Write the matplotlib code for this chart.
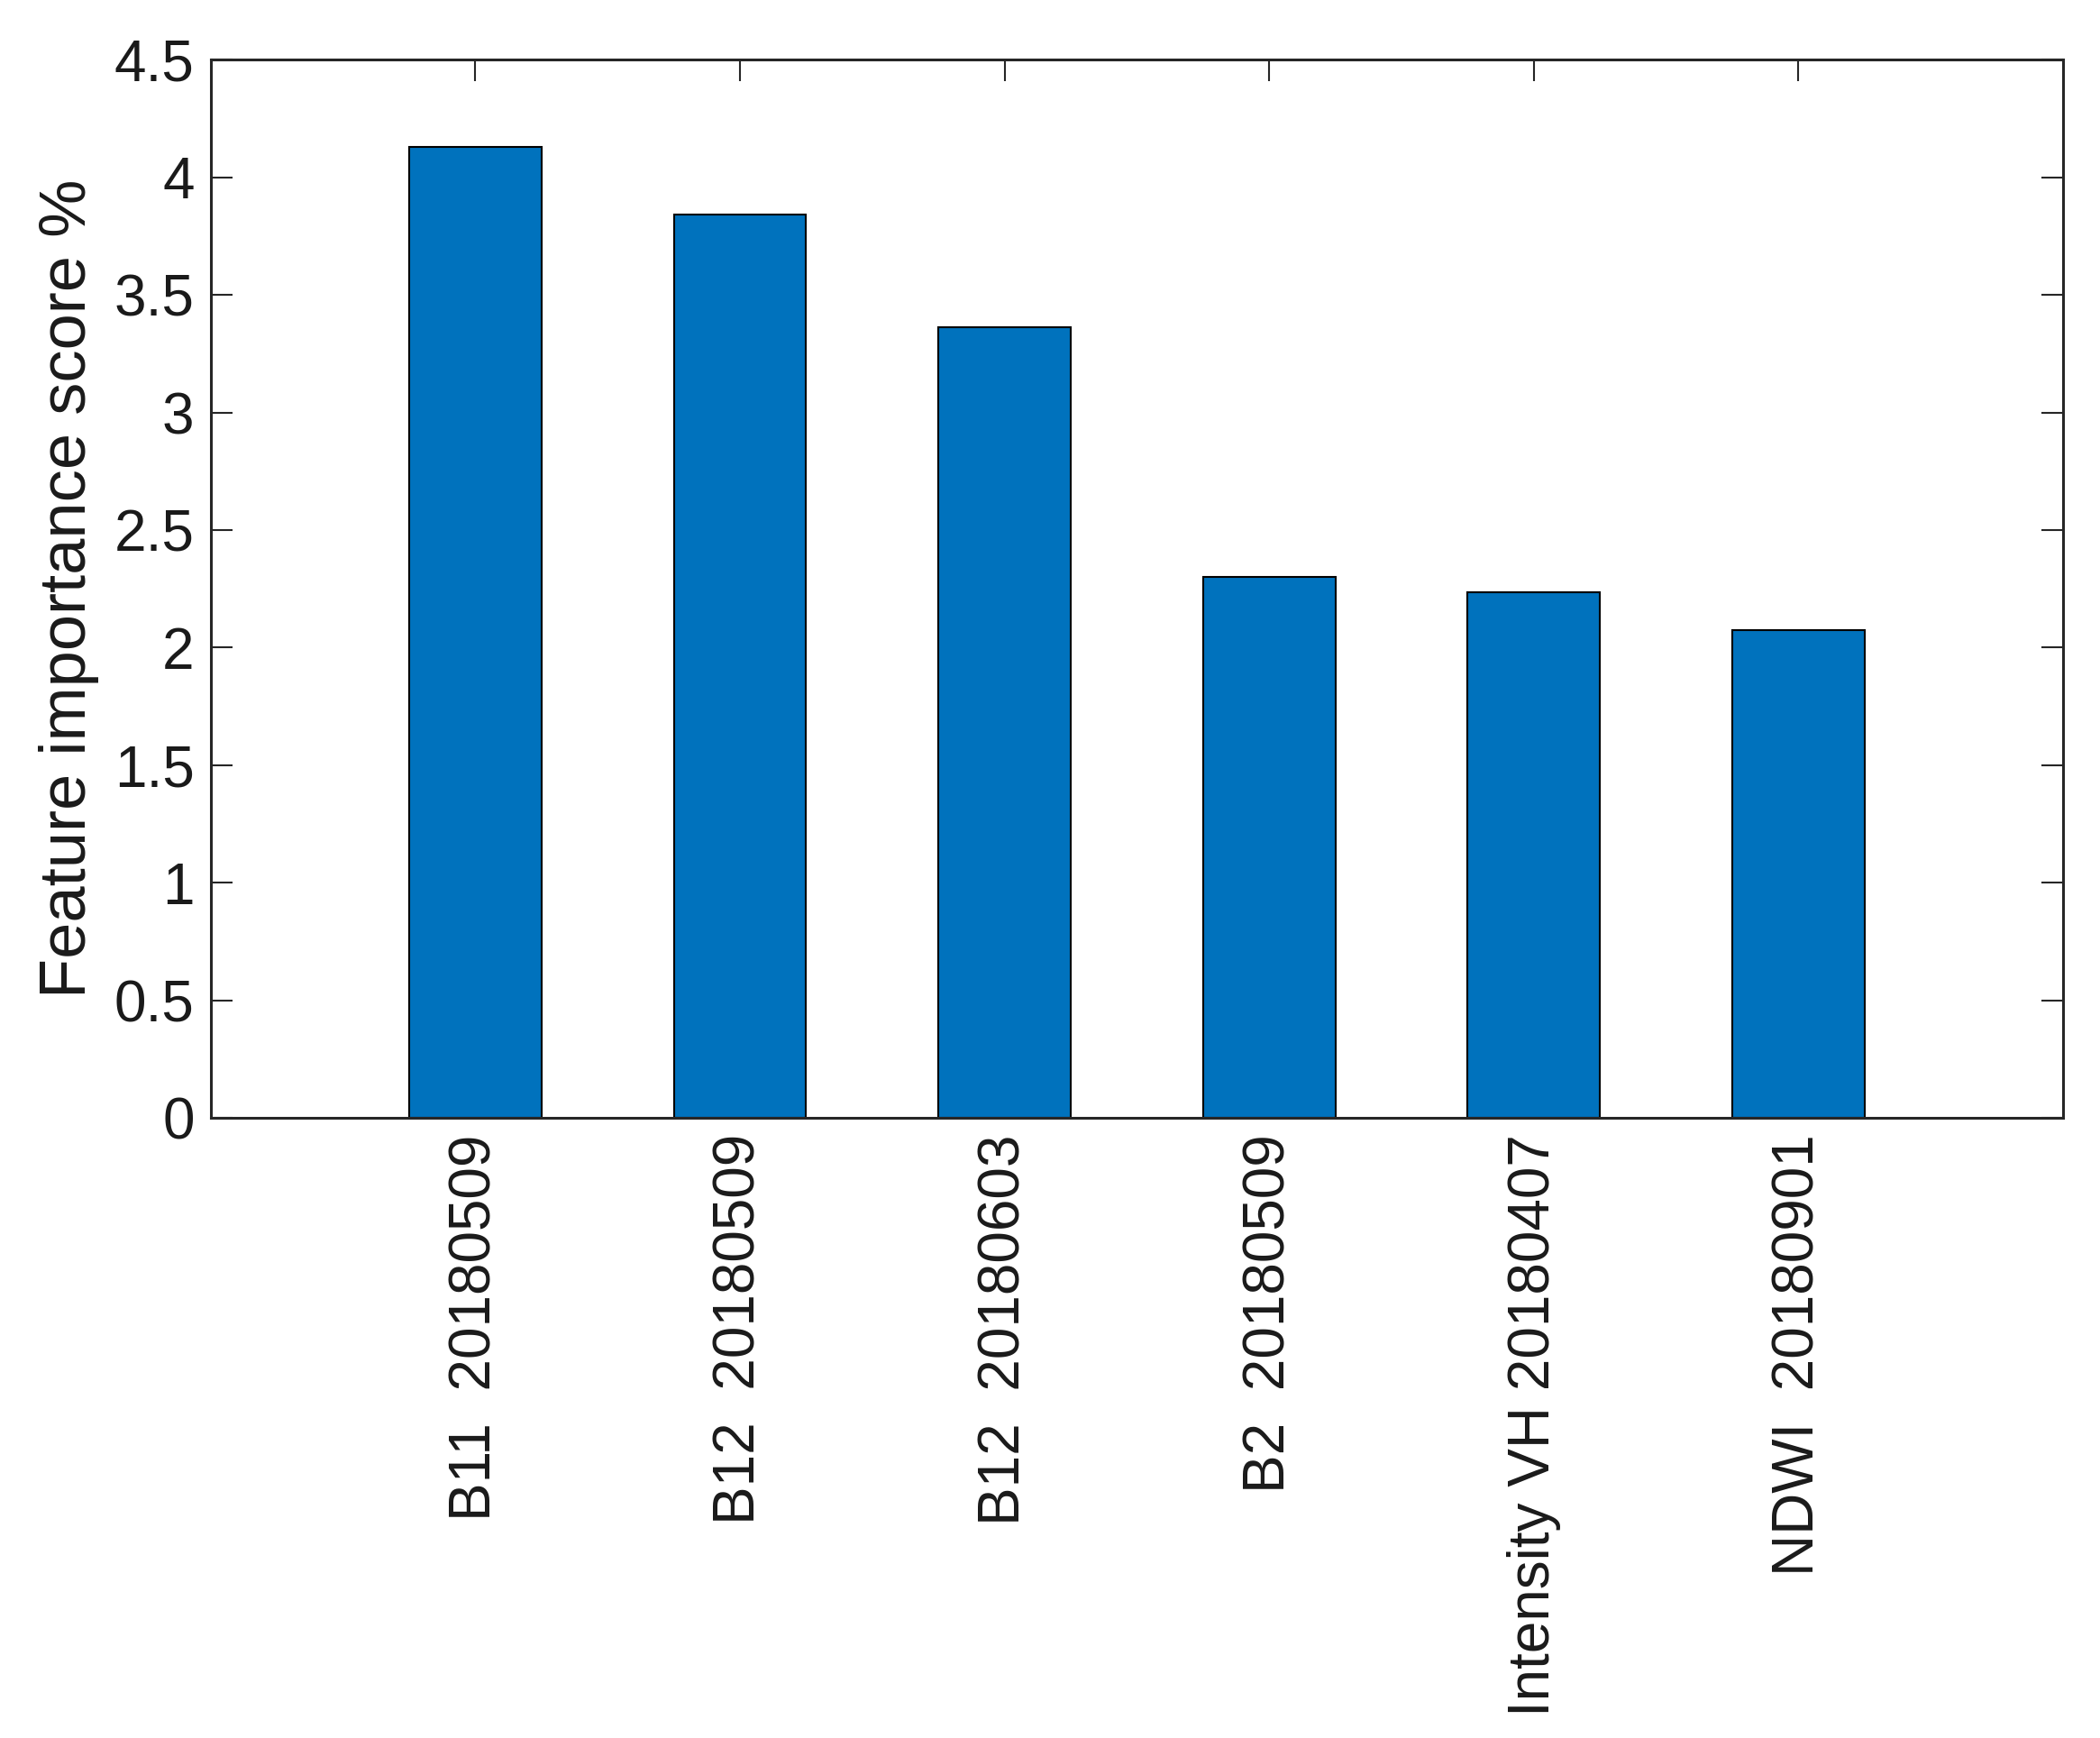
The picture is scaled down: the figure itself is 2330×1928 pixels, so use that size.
import matplotlib
matplotlib.use("Agg")
import matplotlib.pyplot as plt
import numpy as np

# Feature importance scores (%)
features = [
    "B11  20180509",
    "B12  20180509",
    "B12  20180603",
    "B2  20180509",
    "Intensity VH 20180407",
    "NDWI  20180901",
]
scores = [4.131, 3.841, 3.364, 2.301, 2.237, 2.074]
yticks = [0, 0.5, 1, 1.5, 2, 2.5, 3, 3.5, 4, 4.5]
ytick_labels = ["0", "0.5", "1", "1.5", "2", "2.5", "3", "3.5", "4", "4.5"]

plt.rcParams["font.family"] = ["Liberation Sans", "DejaVu Sans"]

axis_color = "#262626"

fig = plt.figure(figsize=(23.3, 19.28), dpi=100)
ax = fig.add_axes([0.1003, 0.3568, 0.8821, 0.6088])

x = np.arange(1, len(features) + 1)
ax.bar(x, scores, width=0.5, color="#0072BD", edgecolor="black", linewidth=1.5, zorder=2)

ax.set_xlim(0, len(features) + 1)
ax.set_ylim(0, 4.5)
ax.set_yticks(yticks)
ax.set_yticklabels(ytick_labels)
ax.set_xticks(x)
ax.set_xticklabels(features, rotation=90, ha="center", va="top")

ax.tick_params(axis="both", direction="in", length=17, width=1.5,
               colors=axis_color, labelcolor="#1a1a1a", labelsize=46, pad=13)
ax.tick_params(top=True, right=True)

for spine in ax.spines.values():
    spine.set_color(axis_color)
    spine.set_linewidth(2.2)

ax.set_ylabel("Feature importance score %", fontsize=52, color="#1a1a1a", labelpad=12)

fig.savefig("out.png", dpi=100, facecolor="white")
